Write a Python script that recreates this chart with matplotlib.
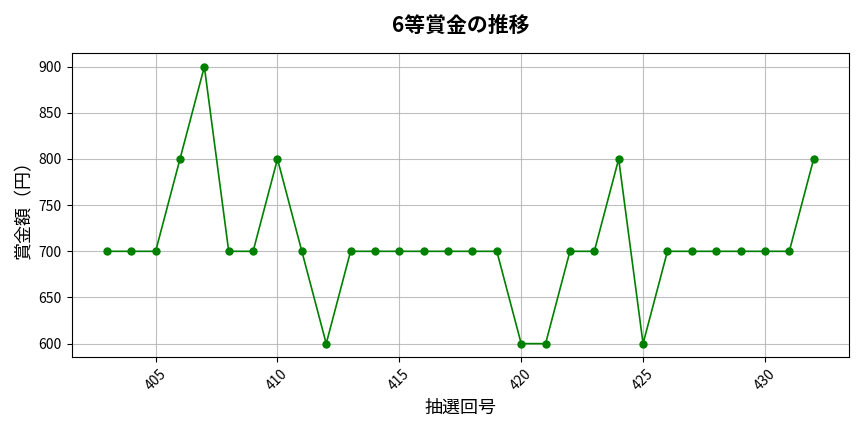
import matplotlib
matplotlib.use("Agg")
import matplotlib.pyplot as plt

plt.rcParams['font.family'] = ['Noto Sans CJK JP', 'DejaVu Sans']

draws = list(range(403, 433))
prizes = [700, 700, 700, 800, 900, 700, 700, 800, 700, 600,
          700, 700, 700, 700, 700, 700, 700, 600, 600, 700,
          700, 800, 600, 700, 700, 700, 700, 700, 700, 800]

fig, ax = plt.subplots(figsize=(8.64, 4.32), dpi=100)
ax.plot(draws, prizes, marker='o', color='green', markersize=5, linewidth=1.2)
ax.set_title('6等賞金の推移', fontsize=15, fontweight='bold', pad=15)
ax.set_xlabel('抽選回号', fontsize=13)
ax.set_ylabel('賞金額（円）', fontsize=13)
ax.grid(True, alpha=0.8)
plt.xticks(rotation=45)
plt.tight_layout()
plt.savefig('out.png')
